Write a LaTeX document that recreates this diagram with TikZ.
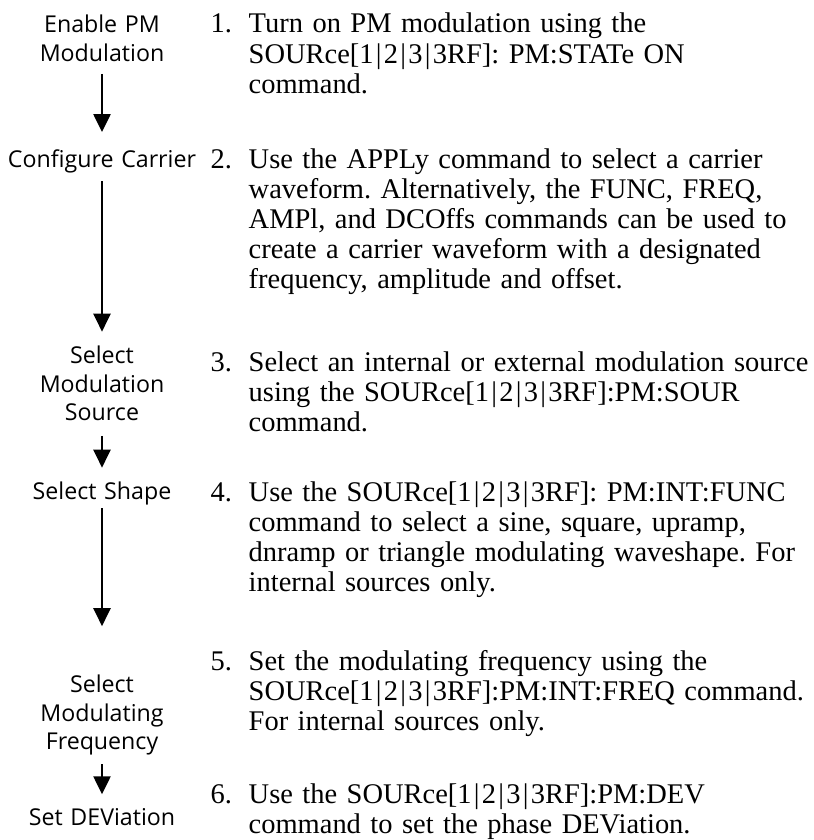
\documentclass[tikz,border=0pt]{standalone}
\usepackage{fontspec}
\setmainfont{Liberation Serif}
\newfontfamily\stagefont{Open Sans}
\usepackage{tikz}
\usetikzlibrary{arrows.meta}
\newcommand{\chsep}{\kern0.08em|\kern0.08em}
\frenchspacing

\begin{document}
\begin{tikzpicture}[
  stage/.style={inner sep=0pt,anchor=base,text width=2.2cm,align=center,
    font=\stagefont\fontsize{6.6}{8.25}\selectfont},
  stepnum/.style={inner sep=0pt,anchor=base west,
    font=\fontsize{8.1}{8.54}\selectfont},
  steptext/.style={inner sep=0pt,anchor=base west,text width=6.5cm,align=left,
    font=\fontsize{8.1}{8.54}\selectfont},
  flow/.style={-{Triangle[length=0.18cm,width=0.17cm]},line width=0.7pt,
    shorten <=0.08cm,shorten >=0.13cm}]
\useasboundingbox (0,0) rectangle (8.13,-8.40);
% left column
\node[stage] (enable) at (1.02,-0.33) {Enable PM\\Modulation};
\node[stage] (carrier) at (1.02,-1.67) {Configure Carrier};
\node[stage] (source) at (1.02,-3.63) {Select\\Modulation\\Source};
\node[stage] (shape) at (1.02,-4.99) {Select Shape};
\node[stage] (freq) at (1.02,-6.92) {Select\\Modulating\\Frequency};
\node[stage] (dev) at (1.02,-8.25) {Set DEViation};
% right column
\node[stepnum] (num1) at (2.10,-0.33) {1.};
\node[steptext] (step1) at (2.48,-0.33) {Turn on PM modulation using the\\
  SOURce[1\chsep2\chsep3\chsep3RF]: PM:STATe ON\\command.};
\node[stepnum] (num2) at (2.10,-1.68) {2.};
\node[steptext] (step2) at (2.48,-1.68) {Use the APPLy command to select a carrier\\
  waveform. Alternatively, the FUNC, FREQ,\\
  AMPl, and DCOffs commands can be used to\\
  create a carrier waveform with a designated\\
  frequency, amplitude and offset.};
\node[stepnum] (num3) at (2.10,-3.71) {3.};
\node[steptext] (step3) at (2.48,-3.71) {Select an internal or external modulation source\\
  using the SOURce[1\chsep2\chsep3\chsep3RF]:PM:SOUR\\command.};
\node[stepnum] (num4) at (2.10,-5.01) {4.};
\node[steptext] (step4) at (2.48,-5.01) {Use the SOURce[1\chsep2\chsep3\chsep3RF]: PM:INT:FUNC\\
  command to select a sine, square, upramp,\\
  dnramp or triangle modulating waveshape. For\\
  internal sources only.};
\node[stepnum] (num5) at (2.10,-6.70) {5.};
\node[steptext] (step5) at (2.48,-6.70) {Set the modulating frequency using the\\
  SOURce[1\chsep2\chsep3\chsep3RF]:PM:INT:FREQ command.\\
  For internal sources only.};
\node[stepnum] (num6) at (2.10,-8.03) {6.};
\node[steptext] (step6) at (2.48,-8.03) {Use the SOURce[1\chsep2\chsep3\chsep3RF]:PM:DEV\\
  command to set the phase DEViation.};
% arrows
\draw[flow,shorten <=0.11cm,shorten >=0.165cm] (enable.south) -- (carrier.north);
\draw[flow] (carrier.south) -- (source.north);
\draw[flow,shorten <=0.14cm] (source.south) -- (shape.north);
\draw[flow,shorten <=0.03cm,shorten >=0.475cm] (shape.south) -- (freq.north);
\draw[flow] (freq.south) -- (dev.north);
\end{tikzpicture}
\end{document}
